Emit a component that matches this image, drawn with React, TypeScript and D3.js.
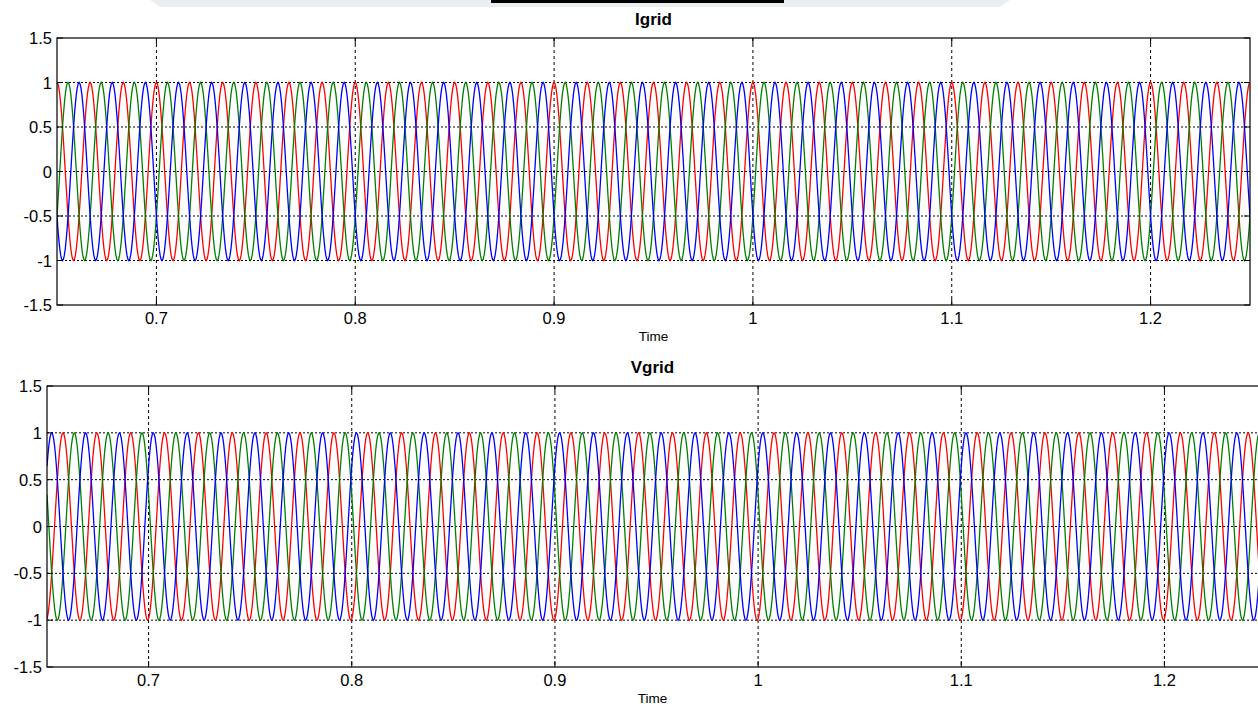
import * as d3 from "d3";

// grid frequency and time window (s)
const FREQ_HZ = 60;
const T_START = 0.65;
const T_END = 1.25;

const unitCycle = [
  1, 0.985, 0.94, 0.866, 0.766, 0.643, 0.5, 0.342, 0.174, 0,
  -0.174, -0.342, -0.5, -0.643, -0.766, -0.866, -0.94, -0.985,
  -1, -0.985, -0.94, -0.866, -0.766, -0.643, -0.5, -0.342, -0.174, 0,
  0.174, 0.342, 0.5, 0.643, 0.766, 0.866, 0.94, 0.985,
];

// phases a, b, c
const phaseColors = ["#ff0000", "#008000", "#0000ff"];
const phaseLagDeg = [0, 120, 240];

// per-plot phase offset of phase a (degrees) at T_START
const igridOffsetDeg = 0;
const vgridOffsetDeg = 170;

const xTicks = [0.7, 0.8, 0.9, 1.0, 1.1, 1.2];
const yTicks = [-1.5, -1, -0.5, 0, 0.5, 1, 1.5];

const FONT = "Liberation Sans, Arial, sans-serif";

function buildSeries(offsetDeg: number, lagDeg: number) {
  const n = unitCycle.length;
  const step = 360 / n;
  const shift = Math.round((offsetDeg + lagDeg) / step);
  const cycles = Math.round((T_END - T_START) * FREQ_HZ);
  const pts: [number, number][] = [];
  for (let k = 0; k <= cycles * n; k++) {
    const t = T_START + k / (FREQ_HZ * n);
    const idx = (((k - shift) % n) + n) % n;
    pts.push([t, unitCycle[idx]]);
  }
  return pts;
}

type PanelProps = {
  id: string;
  title: string;
  left: number;
  right: number;
  top: number;
  bottom: number;
  offsetDeg: number;
};

function Panel({ id, title, left, right, top, bottom, offsetDeg }: PanelProps) {
  const x = d3.scaleLinear().domain([T_START, T_END]).range([left, right]);
  const y = d3.scaleLinear().domain([-1.5, 1.5]).range([bottom, top]);
  const line = d3
    .line<[number, number]>()
    .x((d) => x(d[0]))
    .y((d) => y(d[1]));

  const tick = 6;
  const cx = (left + Math.min(right, 1258)) / 2;

  return (
    <g>
      <defs>
        <clipPath id={id}>
          <rect x={left} y={top - 2} width={right - left} height={bottom - top + 4} />
        </clipPath>
      </defs>

      {/* grid */}
      {yTicks.slice(1, -1).map((v) => (
        <line key={"gy" + v} x1={left} x2={right} y1={y(v)} y2={y(v)}
          stroke="#000" strokeDasharray="2,2" strokeWidth={1} />
      ))}
      {xTicks.map((v) => (
        <line key={"gx" + v} x1={x(v)} x2={x(v)} y1={top} y2={bottom}
          stroke="#000" strokeDasharray="3,3" strokeWidth={1} />
      ))}

      {/* traces */}
      <g clipPath={`url(#${id})`}>
        {phaseLagDeg.map((lag, i) => (
          <path key={i} d={line(buildSeries(offsetDeg, lag)) ?? ""}
            fill="none" stroke={phaseColors[i]} strokeWidth={1.3} />
        ))}
      </g>

      {/* box */}
      <rect x={left} y={top} width={right - left} height={bottom - top}
        fill="none" stroke="#000" strokeWidth={1.2} />

      {/* ticks */}
      {xTicks.map((v) => (
        <g key={"tx" + v}>
          <line x1={x(v)} x2={x(v)} y1={bottom} y2={bottom - tick} stroke="#000" />
          <line x1={x(v)} x2={x(v)} y1={top} y2={top + tick} stroke="#000" />
          <text x={x(v)} y={bottom + 19} textAnchor="middle" fontSize={16.5} fontFamily={FONT}>
            {String(v)}
          </text>
        </g>
      ))}
      {yTicks.map((v) => (
        <g key={"ty" + v}>
          <line x1={left} x2={left + tick} y1={y(v)} y2={y(v)} stroke="#000" />
          <line x1={right} x2={right - tick} y1={y(v)} y2={y(v)} stroke="#000" />
          <text x={left - 5} y={y(v) + 6} textAnchor="end" fontSize={16.5} fontFamily={FONT}>
            {String(v)}
          </text>
        </g>
      ))}

      <text x={cx} y={top - 13} textAnchor="middle" fontSize={17} fontWeight="bold" fontFamily={FONT}>
        {title}
      </text>
      <text x={cx} y={bottom + 36} textAnchor="middle" fontSize={13.5} fontFamily={FONT}>
        Time
      </text>
    </g>
  );
}

export default function App() {
  return (
    <svg width={1258} height={706} style={{ position: "absolute", left: 0, top: 0, background: "#fff" }}>
      {/* cropped header remnants */}
      <path d="M150,0 L1010,0 L1000,7 L160,7 Z" fill="#e9eef1" />
      <rect x={491} y={0} width={293} height={3} fill="#000" />

      <Panel id="clipI" title="Igrid" left={57} right={1250} top={38} bottom={305} offsetDeg={igridOffsetDeg} />
      <Panel id="clipV" title="Vgrid" left={47} right={1266} top={386} bottom={667} offsetDeg={vgridOffsetDeg} />
    </svg>
  );
}
